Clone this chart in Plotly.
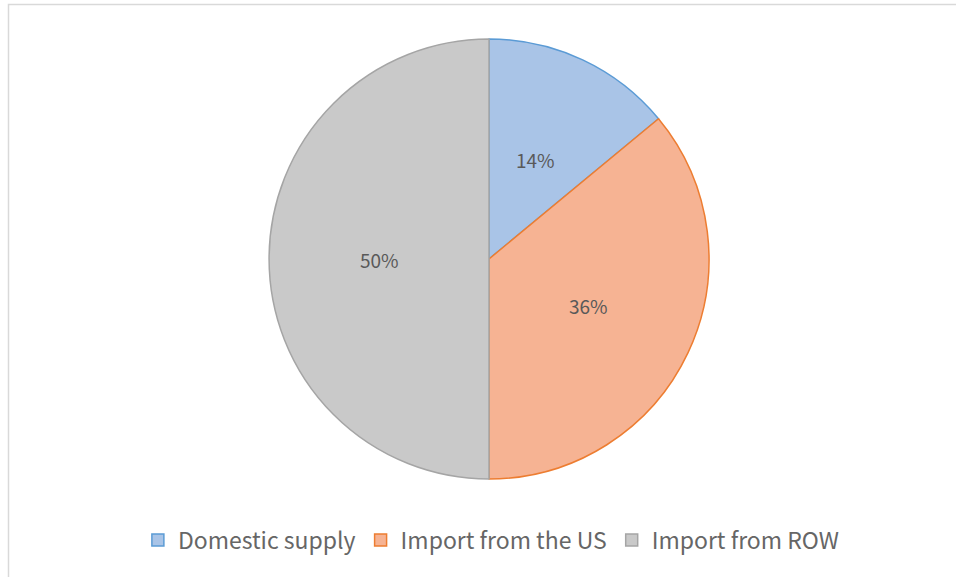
import math
import plotly.graph_objects as go

labels = ["Domestic supply", "Import from the US", "Import from ROW"]
values = [14, 36, 50]
fill_colors = ["#a9c4e7", "#f6b393", "#c9c9c9"]
line_colors = ["#5b9bd5", "#ed7d31", "#a5a5a5"]

W, H = 956, 577
cx, cy, r = 489, 259, 220  # pie centre and radius in pixels

dom_x = [(cx - r) / W, (cx + r) / W]
dom_y = [1 - (cy + r) / H, 1 - (cy - r) / H]

fig = go.Figure(go.Pie(
    labels=labels,
    values=values,
    sort=False,
    direction="clockwise",
    rotation=0,
    marker=dict(colors=fill_colors, line=dict(color=line_colors, width=1.5)),
    textinfo="none",
    hoverinfo="label+percent",
    domain=dict(x=dom_x, y=dom_y),
))

# labels at half radius on mid-angle of each slice
total = sum(values)
cum = 0
annotations = []
for v in values:
    mid = (cum + v / 2) / total * 2 * math.pi
    cum += v
    px = cx + 0.5 * r * math.sin(mid)
    py = cy - 0.5 * r * math.cos(mid)
    annotations.append(dict(
        x=px / W, y=1 - py / H, xref="paper", yref="paper",
        text=f"{round(v / total * 100)}%", showarrow=False,
        font=dict(family="Noto Sans CJK SC, Liberation Sans, sans-serif", size=19, color="#595959"),
        xanchor="center", yanchor="middle",
    ))

fig.update_layout(
    width=W, height=H,
    margin=dict(l=0, r=0, t=0, b=0),
    paper_bgcolor="white",
    plot_bgcolor="white",
    annotations=annotations,
    showlegend=True,
    legend=dict(
        orientation="h", x=0.514, xanchor="center", y=1 - 540 / H, yanchor="middle",
        font=dict(family="Noto Sans CJK SC, Liberation Sans, sans-serif", size=23, color="#666666"),
        itemwidth=30, tracegroupgap=0,
    ),
    shapes=[dict(
        type="rect", xref="paper", yref="paper",
        x0=8.5 / W, y0=-0.05, x1=1.05, y1=1 - 4.5 / H,
        line=dict(color="#d9d9d9", width=1.5), fillcolor="rgba(0,0,0,0)",
    )],
)

fig.write_html("out.html", config={"displayModeBar": False},
               post_script="document.body.style.margin='0';")
